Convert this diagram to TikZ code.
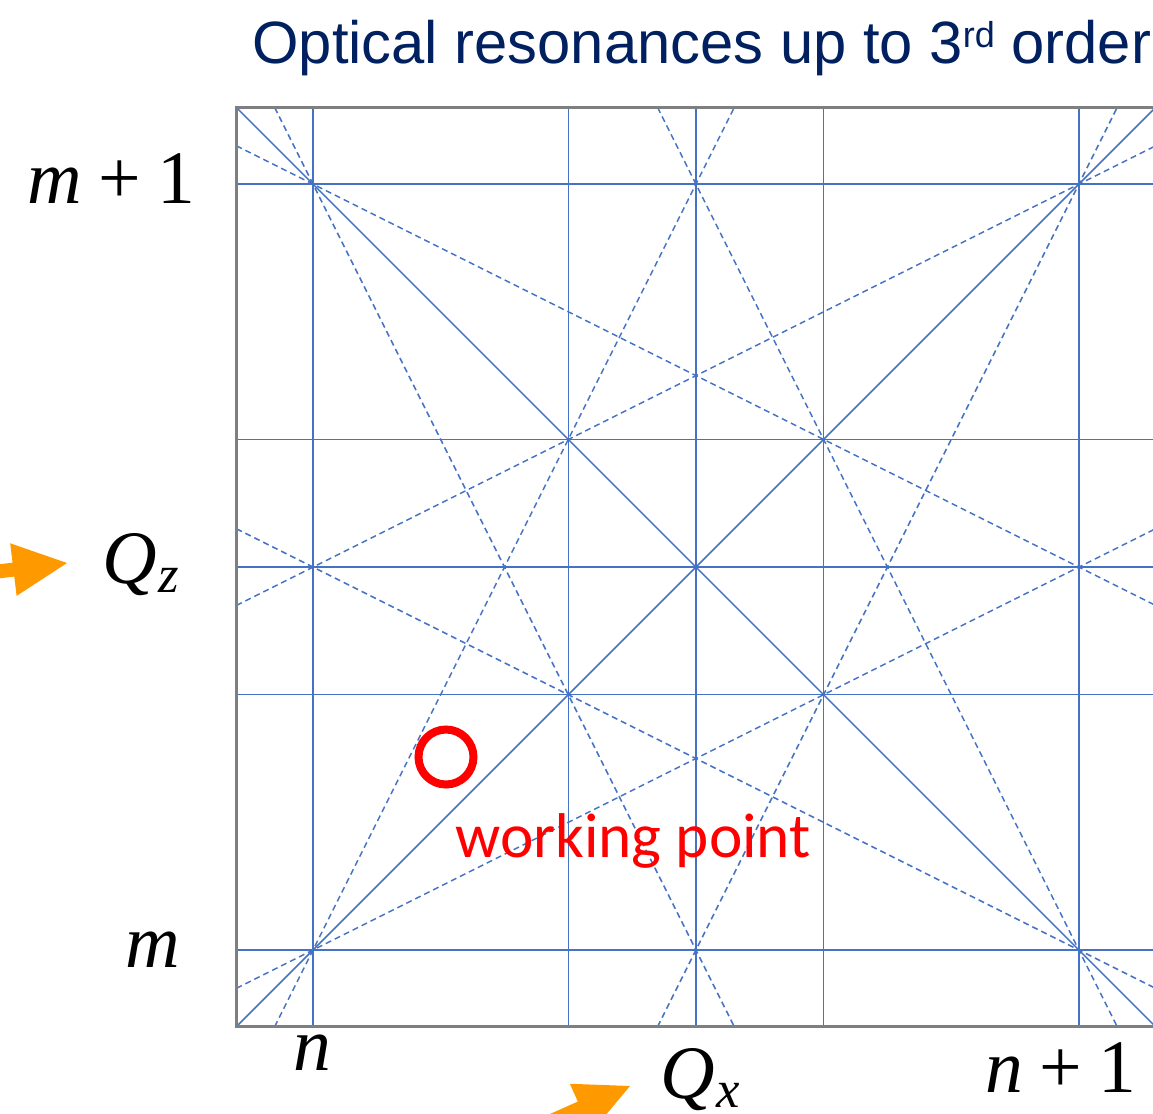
\documentclass[tikz,border=0pt]{standalone}
\usepackage{fontspec}
\setmainfont{Liberation Serif}
\newfontfamily\titlefont{Liberation Sans}
\newfontfamily\wpfont{Carlito}
\definecolor{resblue}{HTML}{4472C4}
\definecolor{titleblue}{HTML}{002060}
\definecolor{framegray}{HTML}{7F7F7F}
\definecolor{arroworange}{HTML}{FF9900}
\definecolor{wpred}{HTML}{FF0000}
\begin{document}
\begin{tikzpicture}[x=0.02cm,y=-0.02cm,
  res/.style={draw=resblue, line width=0.03cm},
  resdash/.style={res, dash pattern=on 0.12cm off 0.08cm},
  frame/.style={draw=framegray, line width=0.06cm},
  axlabel/.style={anchor=base west, inner sep=0pt, font=\fontsize{43}{50}\selectfont},
  orangearrow/.style={fill=arroworange, draw=none}]
\useasboundingbox (0,0) rectangle (1153,1113);

% resonance lines in tune units (n,m) at (313,950), 1 unit = 766 px
\begin{scope}[shift={(313,950)}, x=15.32cm, y=15.32cm]
  \foreach \v in {0,1/3,1/2,2/3,1} {
    \draw[res] (\v,-0.1) -- (\v,1.1);
    \draw[res] (-0.1,\v) -- (1.1,\v);
  }
  % second order diagonals
  \draw[res] (-0.1,-0.1) -- (1.1,1.1);
  \draw[res] (-0.1,1.1) -- (1.1,-0.1);
  % third order
  \draw[resdash] (-0.05,1.1) -- (0.55,-0.1);
  \draw[resdash] (0.45,1.1) -- (1.05,-0.1);
  \draw[resdash] (-0.05,-0.1) -- (0.55,1.1);
  \draw[resdash] (0.45,-0.1) -- (1.05,1.1);
  \draw[resdash] (-0.1,0.55) -- (1.1,-0.05);
  \draw[resdash] (-0.1,1.05) -- (1.1,0.45);
  \draw[resdash] (-0.1,-0.05) -- (1.1,0.55);
  \draw[resdash] (-0.1,0.45) -- (1.1,1.05);
  % frame
  \draw[frame] (-0.1,-0.1) rectangle (1.1,1.1);
\end{scope}

% title
\node[anchor=base west, inner sep=0pt, text=titleblue,
      font=\titlefont\fontsize{34}{40}\selectfont] (title) at (252,63)
  {Optical resonances up to 3\raisebox{9pt}{\fontsize{20.5}{22}\selectfont rd} order};

% axis labels
\node[axlabel] (mp1) at (27,203) {\itshape m\hspace{0.22em}\upshape+\hspace{0.22em}1};
\node[axlabel] (mlab) at (125,967) {\itshape m};
\node[axlabel] (qz) at (102,583) {\itshape Q\hspace{0.02em}\raisebox{-0.13em}{\fontsize{30}{32}\selectfont z}};
\node[axlabel] (nlab) at (293,1070) {\itshape n};
\node[axlabel] (qx) at (660,1098) {\itshape Q\hspace{0.02em}\raisebox{-0.13em}{\fontsize{30}{32}\selectfont x}};
\node[axlabel] (np1) at (985,1092) {\itshape n\hspace{0.22em}\upshape+\hspace{0.22em}1};

% working point
\node[circle, draw=wpred, line width=0.16cm, minimum size=1.1cm, inner sep=0pt] (wp) at (446,757) {};
\node[anchor=base west, inner sep=0pt, text=wpred,
      font=\wpfont\fontsize{36}{40}\selectfont] (wplabel) at (455,857) {working point};

% orange arrows
\fill[orangearrow, shift={(67,563)}, rotate=7]
  (0,0) -- (-54,-26.5) -- (-54,-7) -- (-200,-7) -- (-200,7) -- (-54,7) -- (-54,26.5) -- cycle;
\fill[orangearrow, shift={(630,1086)}, rotate=24]
  (0,0) -- (-54,-26.5) -- (-54,-7) -- (-200,-7) -- (-200,7) -- (-54,7) -- (-54,26.5) -- cycle;
\end{tikzpicture}
\end{document}
